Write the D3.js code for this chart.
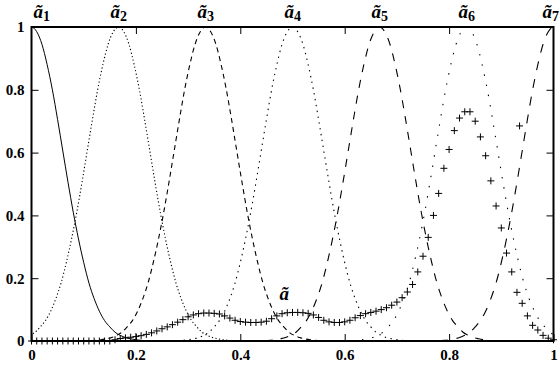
<!DOCTYPE html>
<html>
<head>
<meta charset="utf-8">
<script src="https://cdn.jsdelivr.net/npm/d3@7"></script>
<style>
  body { margin: 0; background: #fff; }
  svg text { font-family: "Liberation Serif", "DejaVu Serif", serif; font-weight: bold; fill: #000; }
</style>
</head>
<body>
<div id="chart"></div>
<script>
// axis ticks
const xTicks = [0, 0.2, 0.4, 0.6, 0.8, 1];
const yTicks = [0, 0.2, 0.4, 0.6, 0.8, 1];

// fuzzy sets a~1 .. a~7: centres and shared bell profile
const setNames = ['1', '2', '3', '4', '5', '6', '7'];
const setCenters = [0, 0.1667, 0.3333, 0.5, 0.6667, 0.8333, 1];
const bellOffset = [-0.22, -0.21, -0.2, -0.19, -0.18, -0.17, -0.16, -0.15, -0.14, -0.13, -0.12, -0.11,
  -0.1, -0.09, -0.08, -0.07, -0.06, -0.05, -0.04, -0.03, -0.02, -0.01, 0,
  0.01, 0.02, 0.03, 0.04, 0.05, 0.06, 0.07, 0.08, 0.09, 0.1,
  0.11, 0.12, 0.13, 0.14, 0.15, 0.16, 0.17, 0.18, 0.19, 0.2, 0.21, 0.22];
const bellValue = [0.001, 0.002, 0.004, 0.007, 0.011, 0.018, 0.028, 0.045, 0.065, 0.095, 0.135, 0.185,
  0.25, 0.325, 0.41, 0.505, 0.605, 0.705, 0.8, 0.88, 0.945, 0.985, 1,
  0.985, 0.945, 0.88, 0.8, 0.705, 0.605, 0.505, 0.41, 0.325, 0.25,
  0.185, 0.135, 0.095, 0.065, 0.045, 0.028, 0.018, 0.011, 0.007, 0.004, 0.002, 0.001];

// aggregated set a~ (plus markers)
const aggX = [0, 0.01, 0.02, 0.03, 0.04, 0.05, 0.06, 0.07, 0.08, 0.09, 0.1, 0.11, 0.12, 0.13, 0.14, 0.15,
  0.16, 0.17, 0.18, 0.19, 0.2, 0.21, 0.22, 0.23, 0.24, 0.25, 0.26, 0.27, 0.28, 0.29, 0.3,
  0.31, 0.32, 0.33, 0.34, 0.35, 0.36, 0.37, 0.38, 0.39, 0.4, 0.41, 0.42, 0.43, 0.44, 0.45,
  0.46, 0.47, 0.48, 0.49, 0.5, 0.51, 0.52, 0.53, 0.54, 0.55, 0.56, 0.57, 0.58, 0.59, 0.6,
  0.61, 0.62, 0.63, 0.64, 0.65, 0.66, 0.67, 0.68, 0.69, 0.7, 0.71, 0.72, 0.73, 0.74, 0.75,
  0.76, 0.77, 0.78, 0.79, 0.8, 0.81, 0.82, 0.83, 0.84, 0.85, 0.86, 0.87, 0.88, 0.89, 0.9,
  0.91, 0.92, 0.93, 0.94, 0.95, 0.96, 0.97, 0.98, 0.99, 1, 0.935];
const aggY = [0, 0, 0, 0, 0, 0, 0, 0, 0, 0, 0, 0, 0, 0, 0, 0,
  0.004, 0.008, 0.01, 0.012, 0.014, 0.017, 0.021, 0.026, 0.032, 0.039, 0.045, 0.052, 0.06, 0.068, 0.077,
  0.083, 0.087, 0.089, 0.089, 0.088, 0.086, 0.08, 0.073, 0.066, 0.062, 0.06, 0.059, 0.059, 0.06, 0.063,
  0.071, 0.08, 0.087, 0.09, 0.091, 0.091, 0.09, 0.088, 0.083, 0.075, 0.066, 0.061, 0.059, 0.059, 0.061,
  0.066, 0.074, 0.081, 0.087, 0.091, 0.095, 0.1, 0.106, 0.114, 0.124, 0.138, 0.156, 0.18, 0.22, 0.27,
  0.33, 0.4, 0.47, 0.55, 0.61, 0.67, 0.71, 0.73, 0.73, 0.7, 0.65, 0.59, 0.51, 0.43, 0.36,
  0.28, 0.22, 0.155, 0.12, 0.08, 0.05, 0.035, 0.018, 0.009, 0.004, 0.685];

const width = 560, height = 365;
const margin = { left: 31.5, right: 6.5, top: 27, bottom: 24 };

const svg = d3.select('#chart').append('svg')
  .attr('width', width)
  .attr('height', height);

const x = d3.scaleLinear().domain([0, 1]).range([margin.left, width - margin.right]);
const y = d3.scaleLinear().domain([0, 1]).range([height - margin.bottom, margin.top]);

const dashes = [null, '1.2,2.4', '5,4', '1.4,4.5', '8,8', '1.4,9', '9,9'];

svg.append('clipPath').attr('id', 'plot')
  .append('rect')
  .attr('x', x(0)).attr('y', y(1) - 2)
  .attr('width', x(1) - x(0)).attr('height', y(0) - y(1) + 2);

const line = d3.line()
  .x(d => x(d[0]))
  .y(d => y(d[1]))
  .curve(d3.curveMonotoneX);

const curves = svg.append('g').attr('clip-path', 'url(#plot)');
setCenters.forEach((c, i) => {
  const pts = bellOffset.map((o, j) => [c + o, bellValue[j]])
    .filter(p => p[0] >= -0.011 && p[0] <= 1.011);
  curves.append('path')
    .attr('d', line(pts))
    .attr('fill', 'none')
    .attr('stroke', '#000')
    .attr('stroke-width', i === 0 ? 1 : 1.1)
    .attr('stroke-dasharray', dashes[i]);
});

// plus markers
svg.append('g').selectAll('path')
  .data(aggX.map((v, i) => [v, aggY[i]]))
  .join('path')
  .attr('d', 'M-3.5,0H3.5M0,-3.5V3.5')
  .attr('transform', d => `translate(${x(d[0])},${y(d[1])})`)
  .attr('stroke', '#000')
  .attr('stroke-width', 1)
  .attr('fill', 'none');

// frame
svg.append('rect')
  .attr('x', x(0)).attr('y', y(1))
  .attr('width', x(1) - x(0)).attr('height', y(0) - y(1))
  .attr('fill', 'none')
  .attr('stroke', '#000')
  .attr('stroke-width', 2);

// axes with inward ticks, mirrored on top/right
const fmt = d => d === 0 || d === 1 ? String(d) : d.toFixed(1);
const gx = svg.append('g').attr('transform', `translate(0,${y(0)})`)
  .call(d3.axisBottom(x).tickValues(xTicks).tickFormat(fmt).tickSizeInner(-7).tickSizeOuter(0).tickPadding(8));
const gy = svg.append('g').attr('transform', `translate(${x(0)},0)`)
  .call(d3.axisLeft(y).tickValues(yTicks).tickFormat(fmt).tickSizeInner(-7).tickSizeOuter(0).tickPadding(7));
const gt = svg.append('g').attr('transform', `translate(0,${y(1)})`)
  .call(d3.axisTop(x).tickValues(xTicks.slice(1, -1)).tickFormat('').tickSizeInner(-7).tickSizeOuter(0));
const gr = svg.append('g').attr('transform', `translate(${x(1)},0)`)
  .call(d3.axisRight(y).tickValues(yTicks.slice(1, -1)).tickFormat('').tickSizeInner(-7).tickSizeOuter(0));
[gx, gy, gt, gr].forEach(g => {
  g.select('.domain').remove();
  g.selectAll('line').attr('stroke', '#000').attr('stroke-width', 1);
  g.selectAll('text').attr('font-size', 15).attr('font-family', null);
});

// set labels above the frame
const labels = svg.append('g');
setCenters.forEach((c, i) => {
  const last = i === setCenters.length - 1;
  const t = labels.append('text')
    .attr('x', i === 0 ? x(c) + 2 : last ? width - 1 : x(c) - 8)
    .attr('text-anchor', last ? 'end' : 'start')
    .attr('y', 18)
    .attr('font-size', 19)
    .attr('font-style', 'italic');
  t.append('tspan').text('ã');
  t.append('tspan').attr('font-size', 14).attr('dy', 3).attr('font-style', 'normal').text(setNames[i]);
});

// label of aggregated set
svg.append('text')
  .attr('x', x(0.5) - 13)
  .attr('y', y(0.13))
  .attr('font-size', 19)
  .attr('font-style', 'italic')
  .text('ã');
</script>
</body>
</html>
